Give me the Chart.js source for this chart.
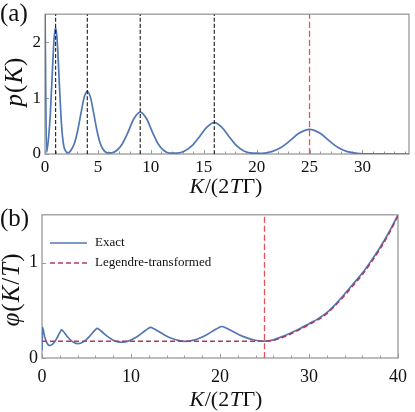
<!DOCTYPE html>
<html>
<head>
<meta charset="utf-8">
<script src="https://cdn.jsdelivr.net/npm/chart.js@4/dist/chart.umd.min.js"></script>
<style>
  html, body { margin: 0; padding: 0; background: #fff; }
  #wrap { position: relative; width: 415px; height: 412px; }
  #ca { position: absolute; left: 0; top: 0; }
  #cb { position: absolute; left: 0; top: 200px; }
</style>
</head>
<body>
<div id="wrap">
  <canvas id="ca" width="415" height="200"></canvas>
  <canvas id="cb" width="415" height="212"></canvas>
</div>
<script>
// ── Panel (a): p(K) ──────────────────────────────────────────────────────
const kA = [0, 0.15, 0.35, 0.5, 0.65, 0.8, 0.9, 1.0, 1.1, 1.2,
            1.35, 1.5, 1.65, 1.8, 2.0, 2.2, 2.5, 2.8, 3.1, 3.4,
            3.7, 4.0, 4.3, 4.6, 4.9, 5.2, 5.5, 5.9, 6.3, 6.8,
            7.3, 7.8, 8.4, 9.0, 9.6, 10.2, 10.7, 11.2, 11.8, 12.5,
            13.2, 13.9, 14.6, 15.3, 16.0, 16.7, 17.4, 18.1, 18.8, 19.6,
            20.5, 21.5, 22.3, 23.1, 24.0, 25.0, 26.0, 26.9, 27.7, 28.5,
            29.5, 31.0, 34.4];
const pA = [2.6, 0.03, 0.32, 0.71, 1.28, 1.88, 2.15, 2.25, 2.15, 1.88,
            1.28, 0.71, 0.32, 0.12, 0.04, 0.02, 0.08, 0.20, 0.43, 0.73,
            1.01, 1.12, 1.01, 0.73, 0.43, 0.20, 0.08, 0.02, 0.02, 0.067,
            0.18, 0.37, 0.63, 0.75, 0.63, 0.37, 0.18, 0.067, 0.015, 0.017,
            0.055, 0.15, 0.31, 0.48, 0.56, 0.48, 0.31, 0.15, 0.055, 0.014,
            0.012, 0.046, 0.115, 0.23, 0.37, 0.44, 0.37, 0.23, 0.115, 0.046,
            0.011, 0.001, 0];
const markersA = [1, 4, 9, 16];
const markerRedA = 25;
const xTicksA = [0, 5, 10, 15, 20, 25, 30];
const yTicksA = [0, 1, 2];

// ── Panel (b): φ(K/T) ────────────────────────────────────────────────────
const kB = [0, 0.05, 0.3, 0.55, 0.85,
            1.12, 1.39, 1.66, 1.93, 2.07, 2.2,
            2.38, 2.56, 2.92, 3.28, 3.64, 4.0,
            4.44, 4.88, 5.32, 5.76, 5.98, 6.2,
            6.47, 6.74, 7.28, 7.82, 8.36, 8.9,
            9.56, 10.22, 10.88, 11.54, 11.87, 12.2,
            12.59, 12.98, 13.76, 14.54, 15.32, 16.1,
            16.92, 17.74, 18.56, 19.38, 19.79, 20.2,
            20.67, 21.14, 22.08, 23.02, 23.96, 25.0,
            26, 27, 28, 29, 30, 31, 32, 33, 34, 35, 36, 37, 38, 39, 40];
const phiExact = [0.08, 0.32, 0.22, 0.157, 0.13,
                  0.14, 0.166, 0.206, 0.255, 0.279, 0.295,
                  0.28, 0.26, 0.217, 0.182, 0.159, 0.15,
                  0.16, 0.185, 0.224, 0.272, 0.294, 0.31,
                  0.296, 0.275, 0.232, 0.197, 0.174, 0.165,
                  0.174, 0.199, 0.236, 0.283, 0.305, 0.32,
                  0.306, 0.285, 0.242, 0.207, 0.184, 0.175,
                  0.184, 0.209, 0.246, 0.293, 0.315, 0.33,
                  0.315, 0.293, 0.247, 0.211, 0.186, 0.177,
                  0.19, 0.225, 0.265, 0.31, 0.36, 0.41, 0.475, 0.565, 0.67,
                  0.78, 0.89, 1.02, 1.16, 1.32, 1.5];
const kLeg = [0, 25, 26, 27, 28, 29, 30, 31, 32, 33, 34, 35, 36, 37, 38, 39, 40];
const phiLeg = [0.175, 0.175, 0.185, 0.215, 0.255, 0.30, 0.35, 0.40, 0.465, 0.555,
                0.655, 0.765, 0.875, 1.005, 1.145, 1.305, 1.49];
const markerB = 25;
const xTicksB = [0, 10, 20, 30, 40];
const yTicksB = [0, 1];
const legendLabels = ['Exact', 'Legendre-transformed'];

const BLUE   = '#5077b6';
const MAROON = '#b23a5f';
const RED    = '#e5525a';
const SERIF  = 'Liberation Serif, DejaVu Serif, serif';

Chart.defaults.font.family = SERIF;
Chart.defaults.color = '#111';

const pts = (xs, ys) => xs.map((x, i) => ({ x, y: ys[i] }));
const vline = (x, y0, y1) => [{ x, y: y0 }, { x, y: y1 }];

function drawRich(ctx, parts, cx, cy, size, rot, gap) {
  ctx.save();
  ctx.translate(cx, cy);
  if (rot) ctx.rotate(rot);
  const fontOf = it => (it ? 'italic ' : '') + size + 'px ' + SERIF;
  let w = 0;
  parts.forEach(([t, it]) => { ctx.font = fontOf(it); w += ctx.measureText(t).width + gap; });
  w -= gap;
  let x0 = -w / 2;
  ctx.textBaseline = 'middle';
  ctx.fillStyle = '#111';
  parts.forEach(([t, it]) => {
    ctx.font = fontOf(it);
    ctx.fillText(t, x0, 0);
    x0 += ctx.measureText(t).width + gap;
  });
  ctx.restore();
}

// frame, inward ticks, titles, panel tag, legend
const decor = {
  id: 'decor',
  beforeDatasetsDraw(chart, args, o) {
    const { ctx, chartArea: a, scales: { x, y } } = chart;
    ctx.save();
    ctx.strokeStyle = '#9a9a9a';
    ctx.lineWidth = 1.3;
    ctx.strokeRect(a.left, a.top, a.right - a.left, a.bottom - a.top);
    ctx.lineWidth = 1;
    ctx.beginPath();
    for (let v = 0; v <= x.max + 1e-9; v += o.minorX) {
      const px = Math.round(x.getPixelForValue(v)) + 0.5;
      const len = o.majorX.includes(v) ? 4 : 2.5;
      ctx.moveTo(px, a.bottom); ctx.lineTo(px, a.bottom - len);
    }
    o.majorY.forEach(v => {
      const py = Math.round(y.getPixelForValue(v)) + 0.5;
      ctx.moveTo(a.left, py); ctx.lineTo(a.left + 4, py);
    });
    ctx.stroke();
    ctx.restore();
  },
  afterDraw(chart, args, o) {
    const { ctx } = chart;
    drawRich(ctx, o.xTitle, o.xTitlePos[0], o.xTitlePos[1], 22, 0, 0.5);
    drawRich(ctx, o.yTitle, o.yTitlePos[0], o.yTitlePos[1], 25, -Math.PI / 2, 1);
    ctx.save();
    ctx.font = '25px ' + SERIF;
    ctx.fillStyle = '#111';
    ctx.textBaseline = 'middle';
    ctx.fillText(o.tag, o.tagPos[0], o.tagPos[1]);
    ctx.restore();
    if (o.legend) {
      ctx.save();
      o.legend.forEach((item, i) => {
        const ds = chart.data.datasets[item.ds];
        const yy = o.legendPos[1] + i * 20;
        ctx.strokeStyle = ds.borderColor;
        ctx.lineWidth = ds.borderWidth;
        ctx.setLineDash(ds.borderDash || []);
        ctx.beginPath();
        ctx.moveTo(o.legendPos[0], yy); ctx.lineTo(o.legendPos[0] + 37, yy);
        ctx.stroke();
        ctx.setLineDash([]);
        ctx.font = '13px ' + SERIF;
        ctx.fillStyle = '#111';
        ctx.textBaseline = 'middle';
        ctx.fillText(item.text, o.legendPos[0] + 45, yy);
      });
      ctx.restore();
    }
  }
};

function axes(xMax, yMax, xTicks, yTicks, yW, xH, fs, xPad) {
  return {
    x: {
      type: 'linear', min: 0, max: xMax,
      afterBuildTicks: s => { s.ticks = xTicks.map(v => ({ value: v })); },
      afterFit: s => { s.height = xH; },
      grid: { display: false, drawTicks: false }, border: { display: false },
      ticks: { color: '#111', font: { family: SERIF, size: fs }, padding: xPad, maxRotation: 0 }
    },
    y: {
      type: 'linear', min: 0, max: yMax,
      afterBuildTicks: s => { s.ticks = yTicks.map(v => ({ value: v })); },
      afterFit: s => { s.width = yW; },
      grid: { display: false, drawTicks: false }, border: { display: false },
      ticks: { color: '#111', font: { family: SERIF, size: fs }, padding: 4 }
    }
  };
}

const lineDs = (data, color, width, dash) => ({
  data, borderColor: color, borderWidth: width, borderDash: dash || [],
  showLine: true, pointRadius: 0, fill: false,
  cubicInterpolationMode: 'monotone'
});

new Chart(document.getElementById('ca'), {
  type: 'scatter',
  data: {
    datasets: [
      lineDs(vline(markerRedA, 0, 2.5), RED, 1.3, [6, 3]),
      ...markersA.map(m => lineDs(vline(m, 0, 2.5), 'rgba(20,20,20,0.9)', 1.2, [4, 2])),
      lineDs(pts(kA, pA), BLUE, 1.7)
    ]
  },
  options: {
    responsive: false, animation: false,
    layout: { padding: { top: 9, right: 6, left: 0, bottom: 0 } },
    scales: axes(34.4, 2.5, xTicksA, yTicksA, 45, 46, 17, 3),
    plugins: {
      legend: { display: false }, tooltip: { enabled: false },
      decor: {
        minorX: 1, majorX: xTicksA, majorY: yTicksA,
        xTitle: [['K', true], ['/(2', false], ['T', true], ['Γ)', false]], xTitlePos: [226, 187],
        yTitle: [['p', true], ['(', false], ['K', true], [')', false]], yTitlePos: [15, 82],
        tag: '(a)', tagPos: [0, 14]
      }
    }
  },
  plugins: [decor]
});

new Chart(document.getElementById('cb'), {
  type: 'scatter',
  data: {
    datasets: [
      lineDs(vline(markerB, 0, 1.5), RED, 1.3, [6, 3]),
      lineDs(pts(kLeg, phiLeg), MAROON, 1.6, [5, 3]),
      lineDs(pts(kB, phiExact), BLUE, 1.7)
    ]
  },
  options: {
    responsive: false, animation: false,
    layout: { padding: { top: 12, right: 9, left: 0, bottom: 0 } },
    scales: axes(40, 1.5, xTicksB, yTicksB, 42, 54, 18, 8),
    plugins: {
      legend: { display: false }, tooltip: { enabled: false },
      decor: {
        minorX: 2, majorX: xTicksB, majorY: yTicksB,
        xTitle: [['K', true], ['/(2', false], ['T', true], ['Γ)', false]], xTitlePos: [226, 200],
        yTitle: [['φ', true], ['(', false], ['K', true], ['/', false], ['T', true], [')', false]], yTitlePos: [12, 90],
        tag: '(b)', tagPos: [0, 19],
        legend: [{ ds: 2, text: legendLabels[0] }, { ds: 1, text: legendLabels[1] }],
        legendPos: [50, 43]
      }
    }
  },
  plugins: [decor]
});
</script>
</body>
</html>
